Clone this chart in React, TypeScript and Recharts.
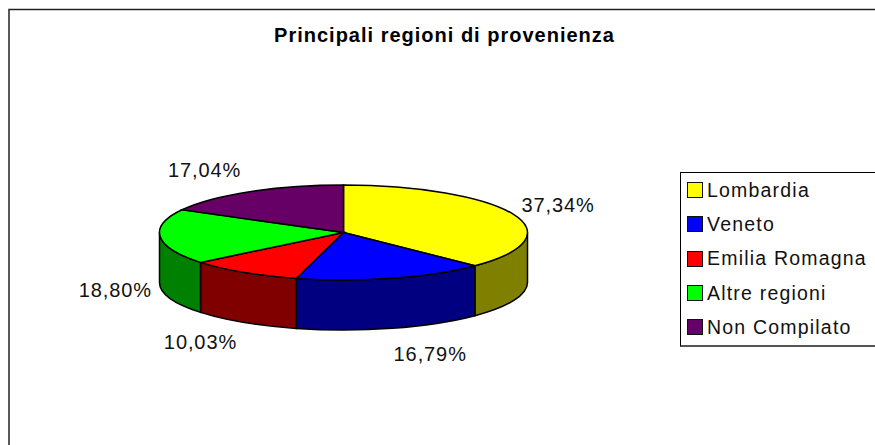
import { PieChart, Pie, Cell, Legend } from "recharts";

const TITLE = "Principali regioni di provenienza";
const REGIONS = ["Lombardia", "Veneto", "Emilia Romagna", "Altre regioni", "Non Compilato"];
const SHARES = [37.34, 16.79, 10.03, 18.8, 17.04];
const TOP_COLORS = ["#FFFF00", "#0000FF", "#FF0000", "#00FF00", "#660066"];
const WALL_COLORS = ["#808000", "#000080", "#800000", "#008000", "#330033"];

// nudges of the value labels away from the rim, [dx, dy]
const LABEL_NUDGES = [
  [45, -9],
  [38, 76],
  [-43, 70],
  [-45, 53],
  [-45, -22],
];

const SQUASH = 47.5 / 184; // height of the tilted disc relative to its width
const DEPTH = 50;
const FONT = "'Liberation Sans', Arial, sans-serif";

const data = REGIONS.map((name, i) => ({ name, value: SHARES[i], wall: WALL_COLORS[i] }));

const rad = (deg: number) => (deg * Math.PI) / 180;

function SliceShape(props: any) {
  const { cx, cy, outerRadius: r, startAngle, endAngle, fill, payload } = props;
  const ry = r * SQUASH;
  const px = (a: number) => cx + r * Math.cos(rad(a));
  const py = (a: number) => cy - ry * Math.sin(rad(a));
  const large = Math.abs(startAngle - endAngle) > 180 ? 1 : 0;

  // only the part of the rim facing the viewer (between 0 and -180 degrees) has a wall
  const wallFrom = Math.min(startAngle, 0);
  const wallTo = Math.max(endAngle, -180);
  const hasWall = wallFrom > wallTo;

  return (
    <g>
      {hasWall && (
        <path
          d={`M${px(wallFrom)},${py(wallFrom)} A${r},${ry} 0 0 1 ${px(wallTo)},${py(wallTo)} L${px(wallTo)},${py(wallTo) + DEPTH} A${r},${ry} 0 0 0 ${px(wallFrom)},${py(wallFrom) + DEPTH} Z`}
          fill={payload?.wall ?? WALL_COLORS[props.index]}
          stroke="#000"
          strokeWidth={1.5}
        />
      )}
      <path
        d={`M${cx},${cy} L${px(startAngle)},${py(startAngle)} A${r},${ry} 0 ${large} 1 ${px(endAngle)},${py(endAngle)} Z`}
        fill={fill}
        stroke="#000"
        strokeWidth={1.5}
      />
    </g>
  );
}

function ValueLabel(props: any) {
  const { cx, cy, outerRadius: r, midAngle, value, index } = props;
  const [dx, dy] = LABEL_NUDGES[index];
  const x = cx + r * Math.cos(rad(midAngle)) + dx;
  const y = cy - r * SQUASH * Math.sin(rad(midAngle)) + dy;
  return (
    <text
      x={x}
      y={y}
      textAnchor="middle"
      dominantBaseline="central"
      fontFamily={FONT}
      fontSize={20}
      letterSpacing={0.9}
      fill="#111"
    >
      {value.toFixed(2).replace(".", ",")}%
    </text>
  );
}

function LegendBox() {
  return (
    <div
      style={{
        width: 210,
        height: 175,
        boxSizing: "border-box",
        border: "1px solid #000",
        borderBottom: "2px solid #555",
        background: "#fff",
        fontFamily: FONT,
        fontSize: 19.5,
        letterSpacing: 1.2,
        color: "#111",
      }}
    >
      {REGIONS.map((name, i) => (
        <div key={name} style={{ display: "flex", alignItems: "center", height: 34.3, paddingLeft: 6 }}>
          <span
            style={{
              width: 16,
              height: 16,
              boxSizing: "border-box",
              border: "1.5px solid #111",
              backgroundColor: TOP_COLORS[i],
              marginRight: 4,
              flex: "none",
            }}
          />
          {name}
        </div>
      ))}
    </div>
  );
}

export default function App() {
  return (
    <div style={{ position: "absolute", left: 0, top: 0, width: 875, height: 445, overflow: "hidden", background: "#fff" }}>
      <PieChart width={875} height={445} margin={{ top: 0, right: 0, bottom: 0, left: 0 }}>
        <rect x={9} y={9.5} width={900} height={460} fill="#fff" stroke="#222" strokeWidth={1.5} />
        <text
          x={444.5}
          y={42}
          textAnchor="middle"
          fontFamily={FONT}
          fontSize={20}
          fontWeight={700}
          letterSpacing={1}
          fill="#000"
        >
          {TITLE}
        </text>
        <Pie
          data={data}
          dataKey="value"
          nameKey="name"
          cx={343.5}
          cy={232.5}
          innerRadius={0}
          outerRadius={184}
          startAngle={90}
          endAngle={-270}
          paddingAngle={0}
          isAnimationActive={false}
          shape={SliceShape}
          label={ValueLabel}
          labelLine={false}
        >
          {REGIONS.map((name, i) => (
            <Cell key={name} fill={TOP_COLORS[i]} />
          ))}
        </Pie>
        <Legend content={<LegendBox />} wrapperStyle={{ position: "absolute", left: 680, top: 172, width: 210, margin: 0 }} />
      </PieChart>
    </div>
  );
}
